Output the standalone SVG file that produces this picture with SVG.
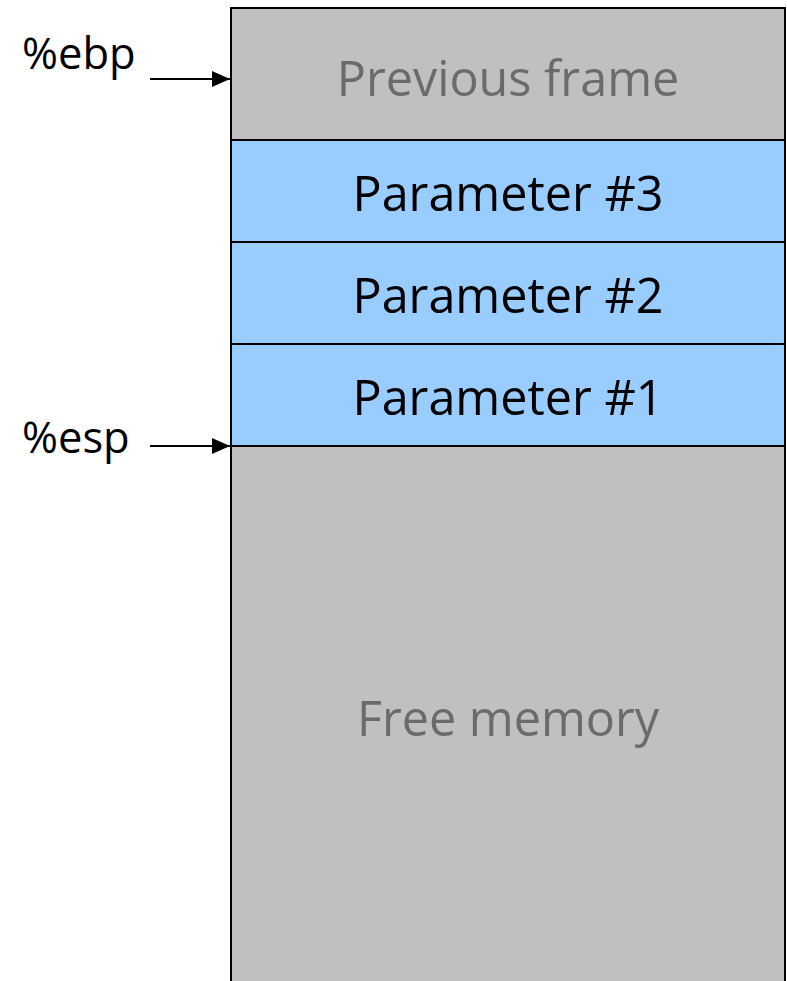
<svg xmlns="http://www.w3.org/2000/svg" width="787" height="981" viewBox="0 0 787 981">
<defs>
<style>
.t{font-family:"Open Sans","Noto Sans",sans-serif;font-size:48.5px;text-anchor:middle}
.g{fill:#6b6b6b}
.k{fill:#000}
.lbl{font-family:"Open Sans","Noto Sans",sans-serif;font-size:43.5px;fill:#000}
.gray{fill:#c0c0c0;stroke:#000;stroke-width:2}
.blue{fill:#99ccff;stroke:#000;stroke-width:2}
.c{stroke:#000;stroke-width:2;fill:none}
</style>
<marker id="ah" viewBox="0 0 18 16" refX="18" refY="8" markerWidth="18" markerHeight="16" markerUnits="userSpaceOnUse" orient="auto">
<path d="M0,0 L18,8 L0,16 z" fill="#000"/>
</marker>
</defs>
<rect width="787" height="981" fill="#fff"/>
<g id="free">
<rect class="gray" x="231" y="446" width="554" height="545"/>
<text class="t g" x="508" y="736">Free memory</text>
</g>
<g id="prev">
<rect class="gray" x="231" y="8" width="554" height="132"/>
<text class="t g" x="508" y="96">Previous frame</text>
</g>
<g id="p3">
<rect class="blue" x="231" y="140" width="554" height="102"/>
<text class="t k" x="508" y="211">Parameter #3</text>
</g>
<g id="p2">
<rect class="blue" x="231" y="242" width="554" height="102"/>
<text class="t k" x="508" y="313">Parameter #2</text>
</g>
<g id="p1">
<rect class="blue" x="231" y="344" width="554" height="102"/>
<text class="t k" x="508" y="415">Parameter #1</text>
</g>
<g id="ebp"><text class="lbl" x="22" y="69">%ebp</text></g>
<g id="esp"><text class="lbl" x="22" y="453">%esp</text></g>
<g id="connectors">
<line class="c" x1="150" y1="79" x2="230" y2="79" marker-end="url(#ah)"/>
<line class="c" x1="150" y1="446" x2="230" y2="446" marker-end="url(#ah)"/>
</g>
</svg>
